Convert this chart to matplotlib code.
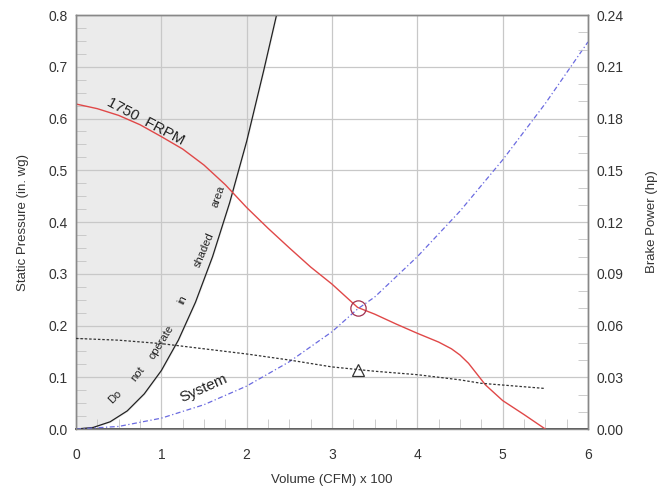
import matplotlib
matplotlib.use("Agg")
import matplotlib.pyplot as plt
from matplotlib.ticker import MultipleLocator, FormatStrFormatter

plt.rcParams['font.family'] = ['Liberation Sans', 'DejaVu Sans']

# Fan curve (1750 FRPM): static pressure (in. wg) vs volume (CFM x 100)
fan_x = [0.0, 0.25, 0.5, 0.75, 1.0, 1.25, 1.5, 1.75, 2.0, 2.25, 2.5, 2.75, 3.0, 3.3, 3.5,
         3.75, 4.0, 4.25, 4.4, 4.5, 4.6, 4.7, 4.8, 5.0, 5.25, 5.5]
fan_y = [0.628, 0.619, 0.606, 0.588, 0.565, 0.541, 0.51, 0.472, 0.428, 0.388, 0.35, 0.313, 0.28,
         0.235, 0.222, 0.203, 0.185, 0.168, 0.155, 0.143, 0.127, 0.106, 0.085, 0.055, 0.028, 0.0]

# System curve (static pressure, in. wg)
sys_x = [0.0, 0.5, 1.0, 1.5, 2.0, 2.5, 3.0, 3.3, 3.5, 4.0, 4.5, 5.0, 5.5, 6.0]
sys_y = [0.0, 0.005, 0.021, 0.047, 0.083, 0.13, 0.188, 0.232, 0.255, 0.333, 0.421, 0.52, 0.629, 0.748]

# Brake power (hp)
bp_x = [0.0, 0.5, 1.0, 1.5, 2.0, 2.5, 3.0, 3.3, 3.5, 4.0, 4.5, 4.75, 5.0, 5.5]
bp_y = [0.0525, 0.0515, 0.0495, 0.0465, 0.0435, 0.040, 0.036, 0.0345, 0.0335, 0.0315,
        0.0285, 0.0265, 0.0255, 0.0235]

# "Do not operate" boundary
lim_x = [0.0, 0.2, 0.4, 0.6, 0.8, 1.0, 1.2, 1.4, 1.6, 1.8, 2.0, 2.2, 2.35]
lim_y = [0.0, 0.003, 0.014, 0.035, 0.068, 0.113, 0.172, 0.245, 0.333, 0.437, 0.556, 0.693, 0.80]

# Operating points
op_x = [3.3]
op_sp = [0.234]
op_bp = [0.0345]

x_ticks = [0, 1, 2, 3, 4, 5, 6]
left_ticks = [0.0, 0.1, 0.2, 0.3, 0.4, 0.5, 0.6, 0.7, 0.8]
right_ticks = [0.00, 0.03, 0.06, 0.09, 0.12, 0.15, 0.18, 0.21, 0.24]

tc = '#333333'
gc = '#c8c8c8'

fig = plt.figure(figsize=(6.64, 4.92), dpi=100)
ax = fig.add_axes([0.1145, 0.128, 0.771, 0.8415])
ax2 = ax.twinx()

ax.set_xlim(0, 6)
ax.set_ylim(0, 0.8)
ax2.set_ylim(0, 0.24)

# shaded region
ax.fill_betweenx(lim_y, 0, lim_x, color='#ebebeb', zorder=0)

ax.grid(True, which='major', color=gc, lw=0.9, zorder=1)
ax.set_axisbelow(True)

ax.plot(lim_x, lim_y, color='#222222', lw=0.9, zorder=3)
ax.plot(fan_x, fan_y, color='#e04848', lw=1.0, zorder=4)
ax.plot(sys_x, sys_y, color='#6a6ae0', lw=0.9, ls=(0, (4, 2, 1, 2)), zorder=4)
ax2.plot(bp_x, bp_y, color='#333333', lw=0.9, ls=(0, (2, 1.5)), zorder=4)
ax.plot(op_x, op_sp, marker='o', ms=11, mfc='none', mec='#a03050', mew=0.9, ls='none', zorder=5)
ax2.plot(op_x, op_bp, marker='^', ms=8, mfc='none', mec='#333333', mew=0.9, ls='none', zorder=5)

# text labels
ax.text(0.82, 0.595, '1750  FRPM', rotation=-28, fontsize=11, color='#222222',
        ha='center', va='center', zorder=6)
ax.text(1.5, 0.078, 'System', rotation=24, fontsize=11, color='#222222',
        ha='center', va='center', zorder=6)
words = ['Do', 'not', 'operate', 'in', 'shaded', 'area']
wx = [0.46, 0.72, 1.0, 1.25, 1.5, 1.67]
wy = [0.062, 0.106, 0.168, 0.25, 0.346, 0.449]
wr = [45, 52, 58, 64, 67, 71]
for w, x, y, r in zip(words, wx, wy, wr):
    ax.text(x, y, w, rotation=r, fontsize=8, color='#222222',
            ha='center', va='center', zorder=6, rotation_mode='anchor')

ax.set_xticks(x_ticks)
ax.set_yticks(left_ticks)
ax2.set_yticks(right_ticks)
ax.yaxis.set_major_formatter(FormatStrFormatter('%.1f'))
ax2.yaxis.set_major_formatter(FormatStrFormatter('%.2f'))
ax.xaxis.set_minor_locator(MultipleLocator(0.25))
ax.yaxis.set_minor_locator(MultipleLocator(0.025))
ax2.yaxis.set_minor_locator(MultipleLocator(0.01))

for a in (ax, ax2):
    a.tick_params(which='major', length=0, labelsize=10, labelcolor=tc, pad=6)
    a.tick_params(which='minor', direction='in', length=7, color='#c4c4c4', width=0.6)
    for s in a.spines.values():
        s.set_color('#888888')
        s.set_linewidth(1.0)
ax.spines['bottom'].set_color('#555555')
ax.spines['bottom'].set_linewidth(1.4)
ax.tick_params(axis='x', which='major', pad=14)

ax.set_xlabel('Volume (CFM) x 100', fontsize=9.5, color=tc, labelpad=8)
ax.set_ylabel('Static Pressure (in. wg)', fontsize=9.5, color=tc, labelpad=14)
ax2.set_ylabel('Brake Power (hp)', fontsize=9.5, color=tc, labelpad=16)

fig.savefig('out.png', dpi=100)
